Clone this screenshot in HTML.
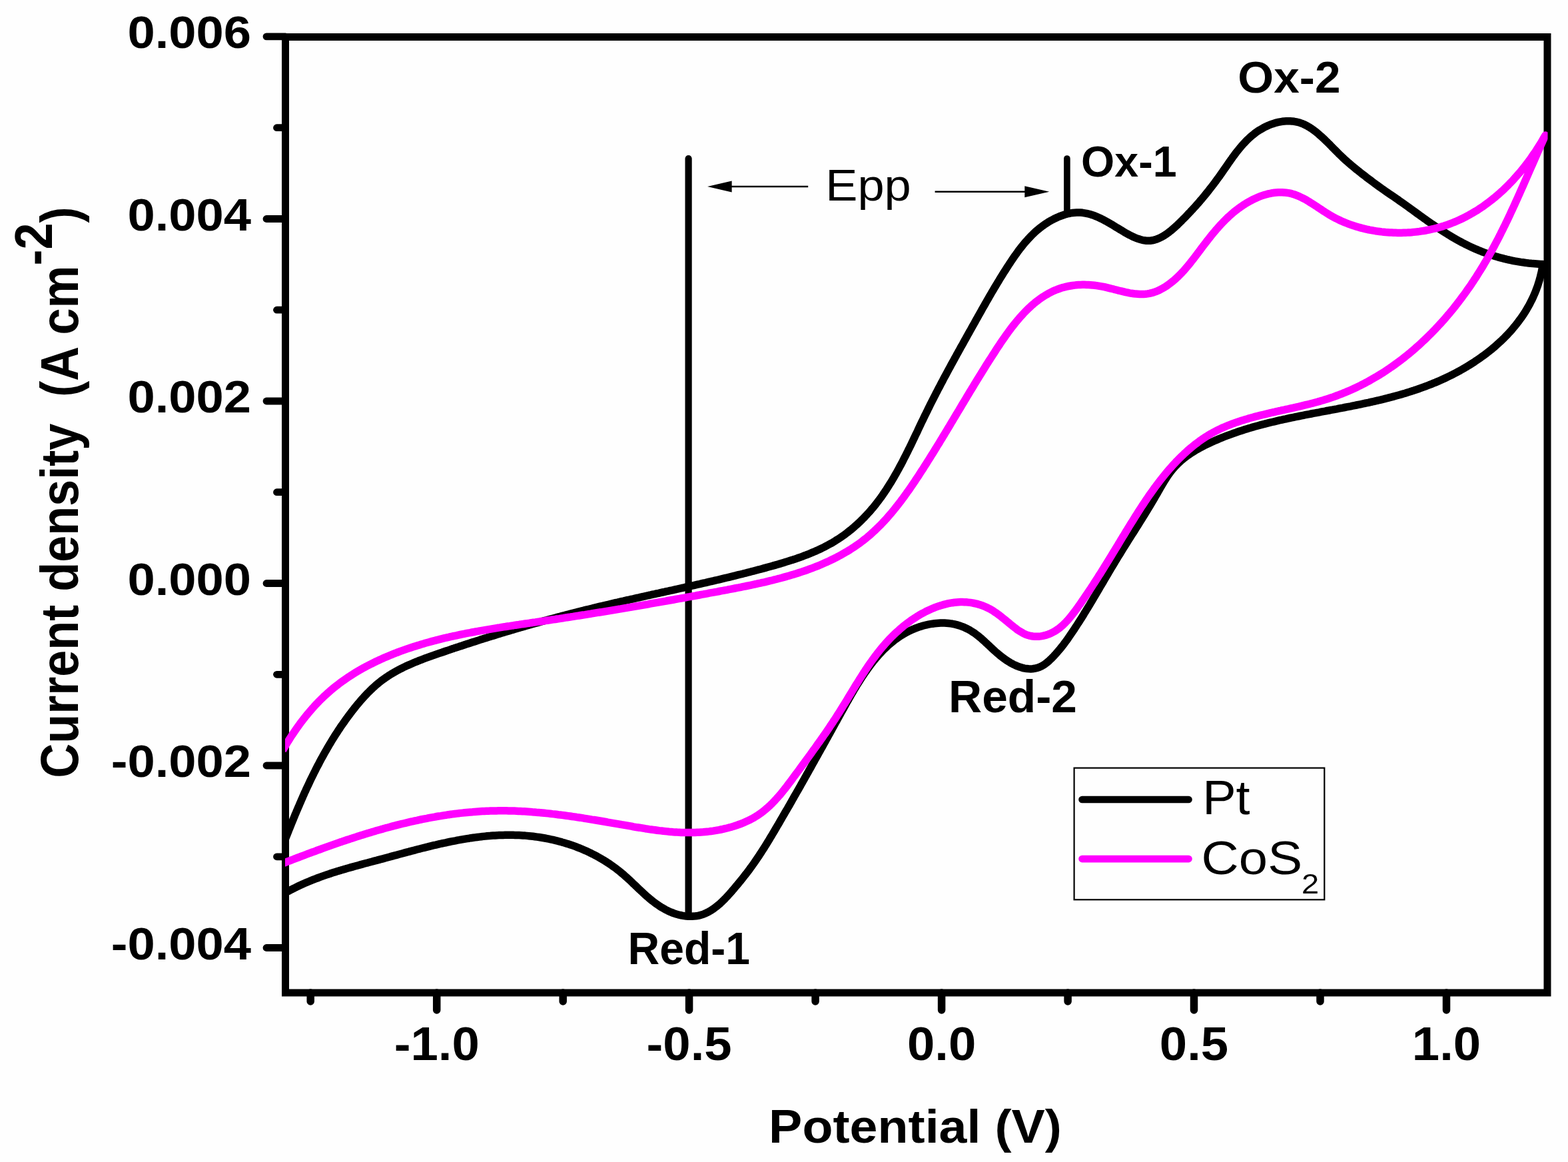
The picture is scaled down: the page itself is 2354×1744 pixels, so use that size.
<!DOCTYPE html>
<html><head><meta charset="utf-8"><title>Cyclic voltammogram Pt vs CoS2</title>
<style>html,body{margin:0;padding:0;background:#fefefe;}svg{display:block;}</style>
</head><body>
<svg xmlns="http://www.w3.org/2000/svg" width="2354" height="1744" viewBox="0 0 2354 1744">
<rect x="0" y="0" width="2354" height="1744" fill="#fefefe"/>
<g stroke="#000" fill="none" stroke-width="11">
<path d="M428.5 55.5H2323V1490H428.5Z" stroke-linejoin="miter" stroke-linecap="square"/>
</g>
<g stroke="#000" stroke-linecap="round" fill="none">
<path d="M428.5 54.9H400" stroke-width="10.8"/>
<path d="M428.5 328.5H400" stroke-width="10.8"/>
<path d="M428.5 602.0H400" stroke-width="10.8"/>
<path d="M428.5 875.5H400" stroke-width="10.8"/>
<path d="M428.5 1149.0H400" stroke-width="10.8"/>
<path d="M428.5 1422.5H400" stroke-width="10.8"/>
<path d="M428.5 191.7H415.5" stroke-width="10.8"/>
<path d="M428.5 465.2H415.5" stroke-width="10.8"/>
<path d="M428.5 738.7H415.5" stroke-width="10.8"/>
<path d="M428.5 1012.3H415.5" stroke-width="10.8"/>
<path d="M428.5 1285.8H415.5" stroke-width="10.8"/>
<path d="M655.7 1490V1516" stroke-width="11.5"/>
<path d="M1034.6 1490V1516" stroke-width="11.5"/>
<path d="M1413.6 1490V1516" stroke-width="11.5"/>
<path d="M1792.5 1490V1516" stroke-width="11.5"/>
<path d="M2171.5 1490V1516" stroke-width="11.5"/>
<path d="M466.2 1490V1503" stroke-width="11.5"/>
<path d="M845.2 1490V1503" stroke-width="11.5"/>
<path d="M1224.1 1490V1503" stroke-width="11.5"/>
<path d="M1603.1 1490V1503" stroke-width="11.5"/>
<path d="M1982.0 1490V1503" stroke-width="11.5"/>
</g>
<g stroke="#000" stroke-linecap="round" fill="none">
<path d="M1033.6 238V1370" stroke-width="10.2"/>
<path d="M1601.9 238V318" stroke-width="9.6"/>
<path d="M1096 280H1213.2" stroke-width="2.6" stroke-linecap="butt"/>
<path d="M1403.6 287.7H1540" stroke-width="2.6" stroke-linecap="butt"/>
</g>
<path d="M1062 280L1098.6 271.4V288.6Z" fill="#000"/>
<path d="M1575.3 287.7L1538.3 279.2V296.3Z" fill="#000"/>
<defs><clipPath id="pc"><rect x="428" y="50" width="1895.5" height="1445"/></clipPath></defs>
<g fill="none" stroke-width="11.5" stroke-linejoin="round" stroke-linecap="butt" clip-path="url(#pc)">
<path stroke="#000" d="M425.6 1266.5L428.5 1259.0 429.6 1256.2 430.7 1253.4 431.8 1250.6 432.9 1247.8 434.0 1245.0 435.2 1242.2 436.3 1239.4 437.4 1236.7 438.5 1233.9 439.7 1231.1 440.8 1228.3 442.0 1225.5 443.1 1222.7 444.3 1220.0 445.4 1217.2 446.6 1214.4 447.8 1211.7 449.0 1208.9 450.2 1206.1 451.4 1203.4 452.6 1200.6 453.8 1197.9 455.0 1195.1 456.2 1192.4 457.4 1189.6 458.7 1186.9 459.9 1184.2 461.2 1181.4 462.5 1178.7 463.8 1176.0 465.0 1173.3 466.3 1170.6 467.6 1167.8 469.0 1165.1 470.3 1162.4 471.6 1159.8 473.0 1157.1 474.3 1154.4 475.7 1151.7 477.1 1149.0 478.5 1146.4 479.9 1143.7 481.3 1141.1 482.7 1138.4 484.2 1135.8 485.6 1133.2 487.1 1130.5 488.6 1127.9 490.1 1125.3 491.6 1122.7 493.1 1120.1 494.6 1117.5 496.2 1114.9 497.7 1112.4 499.3 1109.8 500.9 1107.2 502.5 1104.7 504.1 1102.2 505.8 1099.6 507.4 1097.1 509.1 1094.6 510.7 1092.1 512.4 1089.6 514.1 1087.2 515.9 1084.7 517.6 1082.2 519.3 1079.8 521.1 1077.4 522.9 1074.9 524.7 1072.5 526.5 1070.1 528.3 1067.7 530.2 1065.4 532.0 1063.0 533.9 1060.7 535.8 1058.3 537.7 1056.0 539.7 1053.7 541.6 1051.4 543.6 1049.2 545.6 1046.9 547.6 1044.7 549.7 1042.5 551.8 1040.3 553.9 1038.2 556.0 1036.1 558.2 1034.0 560.4 1031.9 562.6 1029.9 564.9 1027.9 567.2 1026.0 569.5 1024.1 571.9 1022.2 574.3 1020.4 576.7 1018.7 579.2 1016.9 581.7 1015.3 584.2 1013.6 586.7 1012.0 589.3 1010.5 591.9 1009.0 594.5 1007.5 597.2 1006.0 599.8 1004.6 602.5 1003.3 605.2 1001.9 607.9 1000.6 610.6 999.3 613.4 998.1 616.1 996.9 618.9 995.7 621.6 994.5 624.4 993.4 627.2 992.3 630.0 991.1 632.8 990.1 635.6 989.0 638.4 987.9 641.3 986.9 644.1 985.9 646.9 984.9 649.8 983.9 652.6 982.9 655.4 981.9 658.3 980.9 661.1 979.9 664.0 979.0 666.8 978.0 669.7 977.0 672.5 976.1 675.4 975.1 678.2 974.1 681.1 973.2 683.9 972.2 686.8 971.3 689.6 970.3 692.5 969.4 695.3 968.5 698.2 967.5 701.1 966.6 703.9 965.7 706.8 964.7 709.6 963.8 712.5 962.9 715.4 962.0 718.2 961.1 721.1 960.1 724.0 959.2 726.8 958.3 729.7 957.4 732.6 956.5 735.4 955.6 738.3 954.8 741.2 953.9 744.1 953.0 746.9 952.1 749.8 951.2 752.7 950.3 755.6 949.5 758.4 948.6 761.3 947.7 764.2 946.9 767.1 946.0 770.0 945.2 772.9 944.3 775.7 943.5 778.6 942.6 781.5 941.8 784.4 940.9 787.3 940.1 790.2 939.3 793.1 938.5 796.0 937.6 798.9 936.8 801.7 936.0 804.6 935.2 807.5 934.4 810.4 933.6 813.3 932.7 816.2 931.9 819.1 931.2 822.0 930.4 824.9 929.6 827.8 928.8 830.7 928.0 833.6 927.2 836.5 926.4 839.4 925.7 842.4 924.9 845.3 924.1 848.2 923.4 851.1 922.6 854.0 921.9 856.9 921.1 859.8 920.3 862.7 919.6 865.6 918.9 868.6 918.1 871.5 917.4 874.4 916.7 877.3 915.9 880.2 915.2 883.1 914.5 886.1 913.8 889.0 913.1 891.9 912.3 894.8 911.6 897.8 910.9 900.7 910.2 903.6 909.5 906.5 908.8 909.5 908.2 912.4 907.5 915.3 906.8 918.2 906.1 921.2 905.4 924.1 904.7 927.0 904.1 930.0 903.4 932.9 902.7 935.8 902.1 938.8 901.4 941.7 900.7 944.6 900.1 947.6 899.4 950.5 898.8 953.4 898.1 956.4 897.4 959.3 896.8 962.2 896.1 965.2 895.5 968.1 894.8 971.0 894.2 974.0 893.5 976.9 892.9 979.8 892.2 982.8 891.6 985.7 890.9 988.7 890.3 991.6 889.6 994.5 889.0 997.5 888.4 1000.4 887.7 1003.3 887.1 1006.3 886.4 1009.2 885.8 1012.2 885.1 1015.1 884.5 1018.0 883.8 1021.0 883.2 1023.9 882.5 1026.8 881.9 1029.8 881.2 1032.7 880.6 1035.6 879.9 1038.6 879.2 1041.5 878.6 1044.4 877.9 1047.4 877.2 1050.3 876.6 1053.2 875.9 1056.2 875.2 1059.1 874.6 1062.0 873.9 1065.0 873.2 1067.9 872.5 1070.8 871.9 1073.7 871.2 1076.7 870.5 1079.6 869.8 1082.5 869.1 1085.4 868.4 1088.4 867.7 1091.3 867.0 1094.2 866.3 1097.1 865.6 1100.1 864.9 1103.0 864.2 1105.9 863.4 1108.8 862.7 1111.7 862.0 1114.7 861.3 1117.6 860.5 1120.5 859.8 1123.4 859.0 1126.3 858.3 1129.2 857.5 1132.1 856.8 1135.0 856.0 1137.9 855.2 1140.9 854.5 1143.8 853.7 1146.7 852.9 1149.6 852.1 1152.5 851.3 1155.4 850.5 1158.3 849.7 1161.2 848.9 1164.0 848.1 1166.9 847.3 1169.8 846.4 1172.7 845.6 1175.6 844.7 1178.5 843.8 1181.3 842.9 1184.2 842.0 1187.1 841.1 1189.9 840.2 1192.8 839.3 1195.6 838.3 1198.5 837.3 1201.3 836.3 1204.1 835.3 1207.0 834.2 1209.8 833.2 1212.6 832.1 1215.4 831.0 1218.1 829.8 1220.9 828.6 1223.7 827.5 1226.4 826.2 1229.2 825.0 1231.9 823.7 1234.6 822.4 1237.3 821.1 1240.0 819.7 1242.6 818.3 1245.3 816.8 1247.9 815.4 1250.5 813.9 1253.1 812.3 1255.6 810.7 1258.2 809.1 1260.7 807.5 1263.2 805.8 1265.6 804.1 1268.1 802.3 1270.5 800.5 1272.9 798.7 1275.2 796.8 1277.6 794.9 1279.9 793.0 1282.2 791.1 1284.4 789.1 1286.7 787.1 1288.9 785.0 1291.1 783.0 1293.2 780.9 1295.3 778.8 1297.5 776.6 1299.5 774.4 1301.6 772.2 1303.6 770.0 1305.6 767.8 1307.6 765.5 1309.5 763.2 1311.5 760.9 1313.4 758.6 1315.2 756.2 1317.1 753.8 1318.9 751.5 1320.7 749.0 1322.5 746.6 1324.2 744.2 1325.9 741.7 1327.7 739.2 1329.3 736.7 1331.0 734.2 1332.6 731.7 1334.2 729.2 1335.8 726.6 1337.4 724.1 1339.0 721.5 1340.5 718.9 1342.0 716.3 1343.5 713.7 1345.0 711.1 1346.5 708.5 1348.0 705.8 1349.4 703.2 1350.8 700.6 1352.3 697.9 1353.7 695.3 1355.1 692.6 1356.4 689.9 1357.8 687.2 1359.2 684.6 1360.5 681.9 1361.9 679.2 1363.2 676.5 1364.5 673.8 1365.9 671.1 1367.2 668.4 1368.5 665.7 1369.8 663.0 1371.1 660.3 1372.4 657.5 1373.7 654.8 1375.0 652.1 1376.3 649.4 1377.6 646.7 1378.8 644.0 1380.1 641.3 1381.4 638.5 1382.7 635.8 1384.0 633.1 1385.3 630.4 1386.6 627.7 1387.9 625.0 1389.2 622.3 1390.6 619.6 1391.9 616.9 1393.2 614.2 1394.6 611.5 1395.9 608.8 1397.2 606.1 1398.6 603.4 1400.0 600.7 1401.3 598.1 1402.7 595.4 1404.1 592.7 1405.4 590.0 1406.8 587.4 1408.2 584.7 1409.6 582.0 1411.0 579.4 1412.4 576.7 1413.8 574.0 1415.2 571.4 1416.6 568.7 1418.0 566.1 1419.5 563.4 1420.9 560.8 1422.3 558.1 1423.7 555.5 1425.2 552.8 1426.6 550.2 1428.0 547.6 1429.5 544.9 1430.9 542.3 1432.4 539.7 1433.8 537.0 1435.3 534.4 1436.7 531.7 1438.2 529.1 1439.6 526.5 1441.1 523.9 1442.5 521.2 1444.0 518.6 1445.5 516.0 1446.9 513.3 1448.4 510.7 1449.9 508.1 1451.3 505.5 1452.8 502.8 1454.3 500.2 1455.7 497.6 1457.2 495.0 1458.7 492.3 1460.1 489.7 1461.6 487.1 1463.1 484.5 1464.5 481.8 1466.0 479.2 1467.5 476.6 1468.9 474.0 1470.4 471.4 1471.9 468.7 1473.4 466.1 1474.8 463.5 1476.3 460.9 1477.8 458.3 1479.3 455.6 1480.8 453.0 1482.3 450.4 1483.8 447.8 1485.3 445.2 1486.8 442.6 1488.3 440.0 1489.8 437.4 1491.4 434.8 1492.9 432.2 1494.4 429.7 1496.0 427.1 1497.5 424.5 1499.1 421.9 1500.6 419.4 1502.2 416.8 1503.8 414.2 1505.4 411.7 1507.0 409.1 1508.6 406.6 1510.2 404.1 1511.8 401.5 1513.5 399.0 1515.1 396.5 1516.8 394.0 1518.4 391.5 1520.1 389.0 1521.8 386.5 1523.5 384.0 1525.3 381.6 1527.0 379.2 1528.8 376.7 1530.6 374.3 1532.5 371.9 1534.3 369.6 1536.2 367.2 1538.1 364.9 1540.1 362.7 1542.1 360.4 1544.1 358.2 1546.2 356.0 1548.3 353.8 1550.4 351.7 1552.6 349.6 1554.8 347.6 1557.0 345.6 1559.3 343.7 1561.7 341.8 1564.1 339.9 1566.5 338.2 1569.0 336.4 1571.5 334.8 1574.0 333.2 1576.6 331.6 1579.2 330.2 1581.9 328.8 1584.6 327.5 1587.3 326.2 1590.1 325.0 1592.9 324.0 1595.7 323.0 1598.6 322.0 1601.5 321.2 1604.4 320.5 1607.4 319.9 1610.3 319.5 1613.3 319.2 1616.3 319.0 1619.3 318.9 1622.3 319.1 1625.3 319.3 1628.3 319.8 1631.3 320.3 1634.2 321.0 1637.1 321.8 1640.0 322.7 1642.8 323.7 1645.6 324.8 1648.4 326.0 1651.1 327.2 1653.8 328.5 1656.5 329.9 1659.2 331.3 1661.8 332.7 1664.4 334.2 1667.0 335.7 1669.6 337.2 1672.2 338.8 1674.7 340.4 1677.3 341.9 1679.9 343.5 1682.4 345.1 1685.0 346.6 1687.6 348.2 1690.2 349.7 1692.8 351.1 1695.5 352.6 1698.1 353.9 1700.8 355.2 1703.6 356.5 1706.4 357.6 1709.2 358.6 1712.1 359.5 1715.0 360.3 1717.9 360.8 1720.9 361.2 1723.9 361.3 1726.9 361.2 1729.9 360.8 1732.8 360.1 1735.7 359.3 1738.5 358.2 1741.3 357.0 1744.0 355.6 1746.6 354.2 1749.1 352.6 1751.6 350.9 1754.1 349.1 1756.4 347.3 1758.8 345.4 1761.1 343.4 1763.3 341.4 1765.6 339.4 1767.8 337.4 1769.9 335.3 1772.1 333.2 1774.2 331.1 1776.3 328.9 1778.5 326.8 1780.6 324.7 1782.6 322.5 1784.7 320.3 1786.8 318.1 1788.8 315.9 1790.9 313.7 1792.9 311.5 1794.9 309.3 1796.9 307.0 1798.9 304.8 1800.9 302.5 1802.8 300.2 1804.8 297.9 1806.7 295.6 1808.6 293.3 1810.5 291.0 1812.4 288.6 1814.3 286.3 1816.1 283.9 1818.0 281.5 1819.8 279.2 1821.7 276.8 1823.5 274.4 1825.3 272.0 1827.0 269.5 1828.8 267.1 1830.6 264.7 1832.3 262.2 1834.1 259.8 1835.8 257.3 1837.5 254.8 1839.2 252.4 1840.9 249.9 1842.6 247.4 1844.3 244.9 1846.1 242.5 1847.8 240.0 1849.6 237.6 1851.3 235.1 1853.1 232.7 1854.9 230.3 1856.7 227.9 1858.6 225.6 1860.5 223.2 1862.4 220.9 1864.4 218.6 1866.3 216.4 1868.4 214.2 1870.5 212.0 1872.6 209.8 1874.7 207.8 1877.0 205.7 1879.2 203.8 1881.6 201.9 1883.9 200.0 1886.4 198.2 1888.8 196.5 1891.4 194.9 1894.0 193.4 1896.6 191.9 1899.2 190.5 1902.0 189.2 1904.7 188.0 1907.5 186.9 1910.3 185.9 1913.2 185.0 1916.1 184.1 1919.0 183.4 1922.0 182.8 1924.9 182.3 1927.9 182.0 1930.9 181.8 1933.9 181.7 1936.9 181.7 1939.9 181.9 1942.9 182.3 1945.9 182.8 1948.8 183.5 1951.7 184.3 1954.5 185.3 1957.3 186.5 1960.0 187.8 1962.7 189.2 1965.3 190.7 1967.8 192.3 1970.3 194.0 1972.7 195.7 1975.1 197.6 1977.5 199.5 1979.8 201.4 1982.0 203.4 1984.3 205.4 1986.5 207.4 1988.7 209.5 1990.8 211.6 1993.0 213.7 1995.1 215.8 1997.2 217.9 1999.3 220.1 2001.4 222.2 2003.5 224.4 2005.7 226.5 2007.8 228.6 2009.9 230.8 2012.1 232.9 2014.2 234.9 2016.4 237.0 2018.6 239.1 2020.9 241.1 2023.1 243.1 2025.4 245.0 2027.6 247.0 2029.9 248.9 2032.3 250.9 2034.6 252.8 2036.9 254.7 2039.3 256.5 2041.6 258.4 2044.0 260.3 2046.4 262.1 2048.8 263.9 2051.1 265.8 2053.5 267.6 2055.9 269.4 2058.3 271.2 2060.7 273.0 2063.2 274.8 2065.6 276.6 2068.0 278.3 2070.4 280.1 2072.9 281.9 2075.3 283.6 2077.8 285.3 2080.3 287.1 2082.7 288.8 2085.2 290.5 2087.7 292.2 2090.2 293.8 2092.7 295.5 2095.2 297.2 2097.7 298.9 2100.1 300.7 2102.6 302.4 2105.0 304.1 2107.5 305.9 2109.9 307.6 2112.4 309.4 2114.8 311.1 2117.2 312.9 2119.7 314.7 2122.1 316.4 2124.5 318.2 2127.0 320.0 2129.4 321.7 2131.8 323.5 2134.3 325.2 2136.7 327.0 2139.2 328.7 2141.6 330.5 2144.1 332.2 2146.6 333.9 2149.0 335.6 2151.5 337.3 2154.0 339.0 2156.5 340.7 2159.0 342.4 2161.5 344.0 2164.0 345.7 2166.6 347.3 2169.1 348.9 2171.6 350.5 2174.2 352.1 2176.8 353.7 2179.3 355.2 2181.9 356.7 2184.5 358.2 2187.1 359.7 2189.8 361.2 2192.4 362.6 2195.1 364.1 2197.7 365.4 2200.4 366.8 2203.1 368.1 2205.8 369.5 2208.5 370.7 2211.3 372.0 2214.0 373.2 2216.8 374.4 2219.5 375.6 2222.3 376.7 2225.1 377.8 2227.9 378.9 2230.8 379.9 2233.6 380.9 2236.4 381.9 2239.3 382.9 2242.1 383.8 2245.0 384.7 2247.9 385.5 2250.8 386.4 2253.7 387.2 2256.6 387.9 2259.5 388.7 2262.4 389.4 2265.4 390.0 2268.3 390.7 2271.2 391.3 2274.2 391.9 2277.2 392.4 2280.1 392.9 2283.1 393.4 2286.1 393.8 2289.0 394.2 2292.0 394.6 2295.0 395.0 2298.0 395.3 2301.0 395.6 2304.0 395.8 2307.0 396.0 2310.0 396.2 2313.0 396.4 2316.0 396.5 2316.0 398.0 2315.6 401.0 2315.0 403.9 2314.5 406.9 2313.8 409.8 2313.1 412.7 2312.4 415.7 2311.6 418.6 2310.8 421.5 2309.9 424.3 2309.0 427.2 2308.1 430.0 2307.0 432.9 2306.0 435.7 2304.9 438.5 2303.7 441.3 2302.5 444.0 2301.3 446.8 2300.0 449.5 2298.6 452.2 2297.3 454.8 2295.9 457.5 2294.4 460.1 2292.9 462.7 2291.4 465.3 2289.8 467.9 2288.2 470.4 2286.5 472.9 2284.8 475.4 2283.1 477.9 2281.3 480.3 2279.5 482.7 2277.7 485.1 2275.8 487.5 2274.0 489.8 2272.0 492.1 2270.1 494.4 2268.1 496.7 2266.1 498.9 2264.0 501.1 2262.0 503.3 2259.9 505.4 2257.8 507.6 2255.6 509.7 2253.4 511.8 2251.2 513.8 2249.0 515.8 2246.8 517.8 2244.5 519.8 2242.2 521.8 2239.9 523.7 2237.6 525.6 2235.2 527.5 2232.9 529.3 2230.5 531.2 2228.1 533.0 2225.6 534.7 2223.2 536.5 2220.7 538.2 2218.3 539.9 2215.8 541.6 2213.3 543.3 2210.8 544.9 2208.2 546.5 2205.7 548.1 2203.1 549.7 2200.5 551.2 2197.9 552.8 2195.3 554.3 2192.7 555.7 2190.1 557.2 2187.4 558.6 2184.8 560.0 2182.1 561.4 2179.4 562.8 2176.7 564.1 2174.0 565.4 2171.3 566.7 2168.6 568.0 2165.8 569.3 2163.1 570.5 2160.4 571.7 2157.6 572.9 2154.8 574.1 2152.0 575.2 2149.3 576.3 2146.5 577.4 2143.7 578.5 2140.8 579.6 2138.0 580.7 2135.2 581.7 2132.4 582.7 2129.5 583.7 2126.7 584.7 2123.8 585.6 2121.0 586.6 2118.1 587.5 2115.3 588.4 2112.4 589.3 2109.5 590.2 2106.6 591.0 2103.7 591.9 2100.8 592.7 2097.9 593.5 2095.1 594.3 2092.1 595.1 2089.2 595.9 2086.3 596.6 2083.4 597.4 2080.5 598.1 2077.6 598.9 2074.7 599.6 2071.7 600.3 2068.8 601.0 2065.9 601.6 2063.0 602.3 2060.0 603.0 2057.1 603.6 2054.2 604.3 2051.2 604.9 2048.3 605.5 2045.3 606.2 2042.4 606.8 2039.4 607.4 2036.5 608.0 2033.5 608.6 2030.6 609.2 2027.7 609.8 2024.7 610.3 2021.7 610.9 2018.8 611.5 2015.8 612.1 2012.9 612.6 2009.9 613.2 2007.0 613.8 2004.0 614.3 2001.1 614.9 1998.1 615.4 1995.2 616.0 1992.2 616.5 1989.3 617.1 1986.3 617.6 1983.3 618.2 1980.4 618.8 1977.4 619.3 1974.5 619.9 1971.5 620.4 1968.6 621.0 1965.6 621.6 1962.7 622.1 1959.7 622.7 1956.8 623.3 1953.8 623.9 1950.9 624.5 1947.9 625.1 1945.0 625.7 1942.0 626.3 1939.1 626.9 1936.1 627.5 1933.2 628.1 1930.3 628.8 1927.3 629.4 1924.4 630.1 1921.4 630.7 1918.5 631.4 1915.6 632.1 1912.7 632.8 1909.7 633.5 1906.8 634.2 1903.9 634.9 1901.0 635.6 1898.1 636.4 1895.2 637.1 1892.2 637.9 1889.3 638.7 1886.4 639.5 1883.5 640.3 1880.7 641.1 1877.8 642.0 1874.9 642.8 1872.0 643.7 1869.1 644.6 1866.3 645.5 1863.4 646.4 1860.6 647.3 1857.7 648.3 1854.9 649.3 1852.0 650.3 1849.2 651.3 1846.4 652.3 1843.5 653.4 1840.7 654.4 1837.9 655.5 1835.1 656.6 1832.3 657.8 1829.6 658.9 1826.8 660.1 1824.0 661.3 1821.3 662.5 1818.5 663.7 1815.8 665.0 1813.1 666.3 1810.4 667.6 1807.7 668.9 1805.0 670.3 1802.4 671.7 1799.7 673.2 1797.1 674.6 1794.5 676.2 1792.0 677.7 1789.4 679.3 1786.9 681.0 1784.4 682.7 1782.0 684.4 1779.6 686.2 1777.2 688.1 1774.9 690.0 1772.6 692.0 1770.4 694.0 1768.2 696.0 1766.1 698.2 1764.0 700.4 1762.0 702.6 1760.0 704.9 1758.2 707.2 1756.4 709.6 1754.6 712.1 1752.9 714.6 1751.2 717.1 1749.6 719.6 1748.0 722.1 1746.5 724.7 1744.9 727.3 1743.4 729.9 1741.9 732.5 1740.4 735.1 1738.9 737.7 1737.4 740.3 1735.9 742.9 1734.4 745.5 1732.9 748.1 1731.4 750.7 1729.8 753.3 1728.3 755.9 1726.8 758.5 1725.2 761.1 1723.6 763.6 1722.1 766.2 1720.5 768.8 1718.9 771.3 1717.3 773.9 1715.8 776.4 1714.2 779.0 1712.6 781.5 1711.0 784.1 1709.4 786.6 1707.8 789.2 1706.2 791.7 1704.6 794.3 1703.0 796.8 1701.4 799.3 1699.7 801.9 1698.1 804.4 1696.5 807.0 1694.9 809.5 1693.3 812.1 1691.7 814.6 1690.1 817.1 1688.5 819.7 1686.9 822.2 1685.3 824.8 1683.7 827.3 1682.2 829.9 1680.6 832.5 1679.0 835.0 1677.4 837.6 1675.9 840.2 1674.3 842.7 1672.8 845.3 1671.2 847.9 1669.7 850.5 1668.1 853.0 1666.6 855.6 1665.0 858.2 1663.5 860.8 1662.0 863.4 1660.5 866.0 1658.9 868.6 1657.4 871.2 1655.9 873.8 1654.4 876.3 1652.8 878.9 1651.3 881.5 1649.8 884.1 1648.3 886.7 1646.7 889.3 1645.2 891.9 1643.7 894.5 1642.1 897.1 1640.6 899.7 1639.1 902.2 1637.5 904.8 1636.0 907.4 1634.4 910.0 1632.9 912.5 1631.3 915.1 1629.7 917.7 1628.1 920.2 1626.6 922.8 1625.0 925.3 1623.4 927.9 1621.8 930.4 1620.2 933.0 1618.5 935.5 1616.9 938.0 1615.3 940.6 1613.6 943.1 1612.0 945.6 1610.3 948.1 1608.6 950.6 1606.9 953.1 1605.2 955.5 1603.5 958.0 1601.8 960.5 1600.0 962.9 1598.2 965.3 1596.4 967.7 1594.5 970.1 1592.7 972.4 1590.8 974.8 1588.8 977.1 1586.9 979.3 1584.9 981.6 1582.8 983.8 1580.8 986.0 1578.7 988.1 1576.5 990.2 1574.3 992.3 1572.0 994.2 1569.6 996.1 1567.2 997.8 1564.6 999.3 1561.9 1000.7 1559.1 1001.8 1556.2 1002.7 1553.3 1003.3 1550.3 1003.7 1547.3 1003.9 1544.3 1003.8 1541.3 1003.6 1538.4 1003.1 1535.4 1002.5 1532.5 1001.6 1529.7 1000.7 1526.9 999.6 1524.1 998.4 1521.4 997.1 1518.7 995.7 1516.1 994.2 1513.6 992.6 1511.0 991.0 1508.6 989.3 1506.1 987.5 1503.7 985.7 1501.4 983.9 1499.1 981.9 1496.8 980.0 1494.5 978.0 1492.3 976.0 1490.1 974.0 1487.9 971.9 1485.7 969.8 1483.5 967.8 1481.3 965.7 1479.1 963.7 1476.9 961.6 1474.6 959.6 1472.4 957.6 1470.1 955.7 1467.7 953.8 1465.3 952.0 1462.9 950.2 1460.4 948.6 1457.9 947.0 1455.3 945.4 1452.6 944.0 1449.9 942.7 1447.2 941.4 1444.4 940.3 1441.6 939.3 1438.7 938.4 1435.8 937.6 1432.9 936.9 1429.9 936.3 1427.0 935.9 1424.0 935.5 1421.0 935.3 1418.0 935.1 1415.0 935.1 1412.0 935.1 1409.0 935.3 1406.0 935.5 1403.0 935.8 1400.0 936.2 1397.0 936.7 1394.1 937.2 1391.1 937.8 1388.2 938.5 1385.3 939.3 1382.4 940.2 1379.5 941.1 1376.7 942.1 1373.9 943.2 1371.1 944.3 1368.4 945.5 1365.6 946.8 1362.9 948.1 1360.3 949.5 1357.7 951.0 1355.1 952.5 1352.5 954.1 1350.0 955.8 1347.5 957.5 1345.1 959.2 1342.7 961.0 1340.3 962.9 1338.0 964.8 1335.7 966.7 1333.4 968.7 1331.2 970.8 1329.1 972.8 1326.9 974.9 1324.8 977.1 1322.7 979.3 1320.7 981.5 1318.7 983.7 1316.7 986.0 1314.7 988.3 1312.8 990.6 1310.9 992.9 1309.1 995.3 1307.2 997.7 1305.4 1000.1 1303.7 1002.5 1301.9 1004.9 1300.2 1007.4 1298.4 1009.9 1296.8 1012.3 1295.1 1014.8 1293.4 1017.4 1291.8 1019.9 1290.2 1022.4 1288.6 1025.0 1287.0 1027.5 1285.4 1030.1 1283.9 1032.7 1282.3 1035.2 1280.8 1037.8 1279.3 1040.4 1277.8 1043.0 1276.3 1045.6 1274.8 1048.2 1273.3 1050.9 1271.8 1053.5 1270.3 1056.1 1268.9 1058.7 1267.4 1061.4 1266.0 1064.0 1264.5 1066.6 1263.0 1069.2 1261.6 1071.9 1260.1 1074.5 1258.7 1077.1 1257.2 1079.8 1255.8 1082.4 1254.3 1085.0 1252.8 1087.7 1251.4 1090.3 1249.9 1092.9 1248.5 1095.6 1247.0 1098.2 1245.6 1100.8 1244.1 1103.4 1242.6 1106.1 1241.2 1108.7 1239.7 1111.3 1238.3 1114.0 1236.8 1116.6 1235.4 1119.2 1233.9 1121.9 1232.4 1124.5 1231.0 1127.1 1229.5 1129.7 1228.0 1132.4 1226.6 1135.0 1225.1 1137.6 1223.6 1140.2 1222.2 1142.9 1220.7 1145.5 1219.2 1148.1 1217.8 1150.7 1216.3 1153.4 1214.8 1156.0 1213.4 1158.6 1211.9 1161.2 1210.4 1163.9 1208.9 1166.5 1207.5 1169.1 1206.0 1171.7 1204.5 1174.3 1203.0 1176.9 1201.6 1179.6 1200.1 1182.2 1198.6 1184.8 1197.1 1187.4 1195.6 1190.0 1194.1 1192.6 1192.6 1195.2 1191.1 1197.9 1189.6 1200.5 1188.2 1203.1 1186.7 1205.7 1185.2 1208.3 1183.7 1210.9 1182.2 1213.5 1180.7 1216.1 1179.1 1218.7 1177.6 1221.3 1176.1 1223.9 1174.6 1226.5 1173.1 1229.1 1171.6 1231.7 1170.1 1234.3 1168.6 1236.9 1167.0 1239.5 1165.5 1242.1 1164.0 1244.7 1162.5 1247.3 1160.9 1249.9 1159.4 1252.5 1157.9 1255.0 1156.3 1257.6 1154.8 1260.2 1153.2 1262.8 1151.6 1265.3 1150.0 1267.9 1148.5 1270.4 1146.9 1273.0 1145.2 1275.5 1143.6 1278.1 1142.0 1280.6 1140.3 1283.1 1138.7 1285.6 1137.0 1288.1 1135.3 1290.6 1133.6 1293.1 1131.9 1295.5 1130.1 1298.0 1128.4 1300.4 1126.6 1302.8 1124.8 1305.3 1123.0 1307.7 1121.2 1310.1 1119.4 1312.4 1117.5 1314.8 1115.6 1317.2 1113.8 1319.5 1111.9 1321.9 1110.0 1324.2 1108.1 1326.5 1106.2 1328.8 1104.2 1331.1 1102.3 1333.4 1100.3 1335.7 1098.4 1338.0 1096.4 1340.3 1094.4 1342.5 1092.4 1344.7 1090.3 1346.9 1088.2 1349.1 1086.1 1351.2 1083.9 1353.3 1081.7 1355.4 1079.5 1357.4 1077.2 1359.3 1074.8 1361.2 1072.4 1363.0 1070.0 1364.7 1067.5 1366.3 1064.9 1367.9 1062.2 1369.3 1059.5 1370.6 1056.7 1371.8 1053.9 1372.8 1051.0 1373.6 1048.1 1374.3 1045.1 1374.8 1042.1 1375.1 1039.1 1375.3 1036.1 1375.3 1033.1 1375.2 1030.1 1375.0 1027.1 1374.6 1024.2 1374.1 1021.2 1373.5 1018.3 1372.8 1015.4 1372.0 1012.6 1371.1 1009.7 1370.0 1006.9 1368.9 1004.2 1367.7 1001.5 1366.4 998.8 1365.1 996.2 1363.6 993.6 1362.1 991.0 1360.5 988.5 1358.8 986.0 1357.1 983.6 1355.3 981.2 1353.5 978.8 1351.7 976.5 1349.8 974.2 1347.8 971.9 1345.9 969.7 1343.9 967.4 1341.9 965.2 1339.8 963.0 1337.8 960.8 1335.7 958.6 1333.7 956.5 1331.6 954.3 1329.5 952.1 1327.4 949.9 1325.4 947.8 1323.3 945.6 1321.2 943.4 1319.2 941.1 1317.2 938.9 1315.2 936.6 1313.2 934.3 1311.2 932.0 1309.3 929.7 1307.4 927.3 1305.5 925.0 1303.7 922.5 1301.9 920.1 1300.2 917.6 1298.4 915.2 1296.7 912.7 1295.1 910.1 1293.4 907.6 1291.8 905.0 1290.3 902.4 1288.7 899.8 1287.2 897.2 1285.8 894.6 1284.3 891.9 1282.9 889.2 1281.6 886.5 1280.2 883.8 1278.9 881.1 1277.6 878.4 1276.4 875.6 1275.2 872.8 1274.0 870.0 1272.9 867.2 1271.8 864.4 1270.7 861.6 1269.7 858.8 1268.7 855.9 1267.7 853.1 1266.8 850.2 1265.9 847.3 1265.0 844.4 1264.2 841.5 1263.3 838.6 1262.6 835.7 1261.8 832.8 1261.1 829.9 1260.4 826.9 1259.8 824.0 1259.2 821.1 1258.6 818.1 1258.0 815.1 1257.5 812.2 1257.0 809.2 1256.5 806.2 1256.1 803.2 1255.7 800.3 1255.3 797.3 1255.0 794.3 1254.7 791.3 1254.4 788.3 1254.1 785.3 1253.9 782.3 1253.7 779.3 1253.6 776.3 1253.5 773.3 1253.4 770.3 1253.3 767.3 1253.2 764.3 1253.2 761.2 1253.2 758.2 1253.3 755.2 1253.4 752.2 1253.5 749.2 1253.6 746.2 1253.7 743.2 1253.9 740.2 1254.1 737.2 1254.3 734.2 1254.6 731.2 1254.8 728.2 1255.1 725.2 1255.4 722.3 1255.8 719.3 1256.1 716.3 1256.5 713.3 1256.9 710.3 1257.3 707.3 1257.7 704.4 1258.2 701.4 1258.6 698.4 1259.1 695.5 1259.6 692.5 1260.1 689.5 1260.7 686.6 1261.2 683.6 1261.8 680.7 1262.3 677.7 1262.9 674.8 1263.5 671.8 1264.1 668.9 1264.8 666.0 1265.4 663.0 1266.0 660.1 1266.7 657.2 1267.4 654.2 1268.1 651.3 1268.7 648.4 1269.4 645.5 1270.1 642.5 1270.9 639.6 1271.6 636.7 1272.3 633.8 1273.0 630.9 1273.8 628.0 1274.5 625.0 1275.3 622.1 1276.1 619.2 1276.8 616.3 1277.6 613.4 1278.4 610.5 1279.1 607.6 1279.9 604.7 1280.7 601.8 1281.5 598.9 1282.3 596.0 1283.1 593.1 1283.8 590.2 1284.6 587.3 1285.4 584.4 1286.2 581.5 1287.0 578.6 1287.8 575.7 1288.6 572.8 1289.3 569.9 1290.1 567.0 1290.9 564.1 1291.7 561.2 1292.4 558.2 1293.2 555.3 1294.0 552.4 1294.8 549.5 1295.5 546.6 1296.3 543.7 1297.1 540.8 1297.9 537.9 1298.7 535.0 1299.5 532.1 1300.3 529.2 1301.1 526.3 1301.9 523.4 1302.7 520.5 1303.5 517.6 1304.4 514.8 1305.2 511.9 1306.1 509.0 1306.9 506.1 1307.8 503.3 1308.7 500.4 1309.6 497.5 1310.5 494.7 1311.5 491.8 1312.4 489.0 1313.4 486.1 1314.4 483.3 1315.4 480.5 1316.4 477.6 1317.5 474.8 1318.5 472.0 1319.6 469.2 1320.7 466.4 1321.8 463.7 1323.0 460.9 1324.1 458.1 1325.3 455.4 1326.5 452.6 1327.8 449.9 1329.0 447.2 1330.3 444.5 1331.6 441.8 1333.0 439.1 1334.3 436.4 1335.7 433.8 1337.1 431.1 1338.5 428.5 1340.0 421.5 1343.9"/>
<path stroke="#f0f" d="M424.4 1126.2L428.5 1119.3 430.0 1116.7 431.6 1114.1 433.2 1111.6 434.8 1109.0 436.4 1106.5 438.0 1104.0 439.7 1101.5 441.4 1099.0 443.1 1096.5 444.8 1094.0 446.5 1091.6 448.3 1089.1 450.0 1086.7 451.8 1084.3 453.7 1081.9 455.5 1079.5 457.4 1077.1 459.2 1074.8 461.1 1072.5 463.1 1070.1 465.0 1067.8 467.0 1065.6 468.9 1063.3 471.0 1061.1 473.0 1058.8 475.0 1056.6 477.1 1054.5 479.2 1052.3 481.3 1050.2 483.5 1048.1 485.6 1046.0 487.8 1043.9 490.0 1041.9 492.3 1039.9 494.5 1037.9 496.8 1035.9 499.1 1034.0 501.5 1032.1 503.8 1030.2 506.2 1028.4 508.6 1026.5 511.0 1024.7 513.4 1022.9 515.8 1021.2 518.3 1019.5 520.8 1017.8 523.3 1016.1 525.8 1014.4 528.3 1012.8 530.9 1011.2 533.4 1009.6 536.0 1008.1 538.6 1006.6 541.2 1005.1 543.8 1003.6 546.4 1002.1 549.1 1000.7 551.7 999.3 554.4 997.9 557.1 996.5 559.8 995.2 562.5 993.8 565.2 992.5 567.9 991.3 570.6 990.0 573.4 988.8 576.1 987.5 578.9 986.3 581.7 985.2 584.4 984.0 587.2 982.9 590.0 981.7 592.8 980.6 595.6 979.5 598.4 978.5 601.2 977.4 604.1 976.4 606.9 975.4 609.7 974.4 612.6 973.4 615.4 972.5 618.3 971.5 621.2 970.6 624.0 969.7 626.9 968.8 629.8 967.9 632.6 967.0 635.5 966.2 638.4 965.3 641.3 964.5 644.2 963.7 647.1 962.9 650.0 962.1 652.9 961.4 655.8 960.6 658.7 959.9 661.7 959.1 664.6 958.4 667.5 957.7 670.4 957.0 673.4 956.4 676.3 955.7 679.2 955.0 682.2 954.4 685.1 953.8 688.1 953.1 691.0 952.5 693.9 951.9 696.9 951.3 699.8 950.7 702.8 950.1 705.8 949.6 708.7 949.0 711.7 948.5 714.6 947.9 717.6 947.4 720.5 946.8 723.5 946.3 726.5 945.8 729.4 945.3 732.4 944.8 735.4 944.3 738.3 943.8 741.3 943.3 744.3 942.8 747.2 942.3 750.2 941.9 753.2 941.4 756.1 940.9 759.1 940.5 762.1 940.0 765.1 939.6 768.0 939.1 771.0 938.7 774.0 938.2 777.0 937.8 779.9 937.3 782.9 936.9 785.9 936.5 788.9 936.0 791.8 935.6 794.8 935.2 797.8 934.7 800.8 934.3 803.7 933.9 806.7 933.4 809.7 933.0 812.7 932.5 815.6 932.1 818.6 931.7 821.6 931.2 824.6 930.8 827.5 930.3 830.5 929.9 833.5 929.5 836.5 929.0 839.4 928.6 842.4 928.1 845.4 927.7 848.4 927.2 851.3 926.7 854.3 926.3 857.3 925.8 860.3 925.4 863.2 924.9 866.2 924.4 869.2 924.0 872.1 923.5 875.1 923.0 878.1 922.6 881.1 922.1 884.0 921.6 887.0 921.2 890.0 920.7 892.9 920.2 895.9 919.7 898.9 919.2 901.8 918.8 904.8 918.3 907.8 917.8 910.7 917.3 913.7 916.8 916.7 916.3 919.7 915.8 922.6 915.3 925.6 914.8 928.6 914.3 931.5 913.9 934.5 913.4 937.4 912.9 940.4 912.4 943.4 911.9 946.3 911.4 949.3 910.8 952.3 910.3 955.2 909.8 958.2 909.3 961.2 908.8 964.1 908.3 967.1 907.8 970.1 907.3 973.0 906.8 976.0 906.2 978.9 905.7 981.9 905.2 984.9 904.7 987.8 904.2 990.8 903.6 993.8 903.1 996.7 902.6 999.7 902.1 1002.6 901.5 1005.6 901.0 1008.6 900.5 1011.5 900.0 1014.5 899.4 1017.4 898.9 1020.4 898.4 1023.4 897.8 1026.3 897.3 1029.3 896.8 1032.2 896.2 1035.2 895.7 1038.2 895.1 1041.1 894.6 1044.1 894.1 1047.0 893.5 1050.0 893.0 1053.0 892.4 1055.9 891.9 1058.9 891.3 1061.8 890.8 1064.8 890.2 1067.7 889.7 1070.7 889.2 1073.7 888.6 1076.6 888.1 1079.6 887.5 1082.5 886.9 1085.5 886.4 1088.4 885.8 1091.4 885.3 1094.4 884.7 1097.3 884.2 1100.3 883.6 1103.2 883.0 1106.2 882.4 1109.1 881.9 1112.1 881.3 1115.0 880.7 1118.0 880.1 1120.9 879.5 1123.9 878.9 1126.8 878.3 1129.7 877.7 1132.7 877.0 1135.6 876.4 1138.6 875.7 1141.5 875.1 1144.4 874.4 1147.4 873.8 1150.3 873.1 1153.2 872.4 1156.1 871.7 1159.1 871.0 1162.0 870.2 1164.9 869.5 1167.8 868.7 1170.7 868.0 1173.6 867.2 1176.5 866.4 1179.4 865.6 1182.3 864.8 1185.2 864.0 1188.1 863.1 1191.0 862.2 1193.9 861.4 1196.7 860.5 1199.6 859.5 1202.4 858.6 1205.3 857.6 1208.1 856.7 1211.0 855.7 1213.8 854.7 1216.6 853.6 1219.5 852.6 1222.3 851.5 1225.1 850.4 1227.9 849.3 1230.6 848.2 1233.4 847.0 1236.2 845.8 1238.9 844.6 1241.7 843.4 1244.4 842.1 1247.1 840.8 1249.8 839.5 1252.5 838.2 1255.2 836.8 1257.9 835.4 1260.5 834.0 1263.2 832.6 1265.8 831.1 1268.4 829.6 1271.0 828.1 1273.6 826.5 1276.1 825.0 1278.7 823.3 1281.2 821.7 1283.7 820.0 1286.2 818.3 1288.6 816.6 1291.1 814.8 1293.5 813.0 1295.9 811.2 1298.2 809.3 1300.6 807.5 1302.9 805.5 1305.2 803.6 1307.5 801.6 1309.7 799.6 1311.9 797.6 1314.1 795.5 1316.3 793.4 1318.4 791.3 1320.6 789.2 1322.7 787.1 1324.8 784.9 1326.8 782.7 1328.9 780.5 1330.9 778.3 1332.9 776.0 1334.8 773.8 1336.8 771.5 1338.8 769.2 1340.7 766.9 1342.6 764.5 1344.5 762.2 1346.3 759.8 1348.2 757.5 1350.0 755.1 1351.9 752.7 1353.7 750.3 1355.5 747.9 1357.3 745.5 1359.0 743.0 1360.8 740.6 1362.5 738.1 1364.3 735.7 1366.0 733.2 1367.7 730.8 1369.4 728.3 1371.1 725.8 1372.8 723.3 1374.4 720.8 1376.1 718.3 1377.8 715.8 1379.4 713.3 1381.1 710.7 1382.7 708.2 1384.3 705.7 1386.0 703.2 1387.6 700.6 1389.2 698.1 1390.8 695.6 1392.4 693.0 1394.0 690.5 1395.6 687.9 1397.2 685.4 1398.8 682.8 1400.4 680.3 1402.0 677.7 1403.6 675.2 1405.2 672.6 1406.7 670.0 1408.3 667.5 1409.9 664.9 1411.4 662.4 1413.0 659.8 1414.6 657.2 1416.1 654.6 1417.7 652.1 1419.2 649.5 1420.8 646.9 1422.4 644.3 1423.9 641.8 1425.5 639.2 1427.0 636.6 1428.5 634.0 1430.1 631.4 1431.6 628.9 1433.2 626.3 1434.7 623.7 1436.3 621.1 1437.8 618.5 1439.4 616.0 1440.9 613.4 1442.5 610.8 1444.0 608.2 1445.5 605.6 1447.1 603.1 1448.6 600.5 1450.2 597.9 1451.7 595.3 1453.3 592.7 1454.8 590.2 1456.4 587.6 1458.0 585.0 1459.5 582.5 1461.1 579.9 1462.6 577.3 1464.2 574.7 1465.8 572.2 1467.3 569.6 1468.9 567.1 1470.5 564.5 1472.1 561.9 1473.7 559.4 1475.2 556.8 1476.8 554.3 1478.4 551.7 1480.0 549.2 1481.6 546.6 1483.2 544.1 1484.8 541.5 1486.5 539.0 1488.1 536.5 1489.7 533.9 1491.3 531.4 1493.0 528.9 1494.6 526.4 1496.2 523.8 1497.9 521.3 1499.6 518.8 1501.2 516.3 1502.9 513.8 1504.6 511.3 1506.3 508.9 1508.0 506.4 1509.7 503.9 1511.5 501.5 1513.3 499.0 1515.0 496.6 1516.8 494.2 1518.6 491.8 1520.5 489.4 1522.3 487.1 1524.2 484.7 1526.1 482.4 1528.1 480.1 1530.0 477.8 1532.0 475.5 1534.0 473.3 1536.0 471.1 1538.1 468.9 1540.2 466.7 1542.3 464.6 1544.5 462.5 1546.7 460.5 1548.9 458.4 1551.2 456.5 1553.5 454.5 1555.8 452.6 1558.2 450.8 1560.6 449.0 1563.1 447.3 1565.6 445.6 1568.1 444.0 1570.7 442.4 1573.3 440.9 1575.9 439.5 1578.6 438.1 1581.3 436.8 1584.1 435.6 1586.9 434.5 1589.7 433.5 1592.5 432.5 1595.4 431.6 1598.3 430.9 1601.3 430.1 1604.2 429.5 1607.2 429.0 1610.1 428.5 1613.1 428.1 1616.1 427.8 1619.1 427.6 1622.1 427.4 1625.1 427.3 1628.1 427.3 1631.1 427.4 1634.1 427.5 1637.1 427.7 1640.1 427.9 1643.1 428.2 1646.1 428.6 1649.1 429.1 1652.0 429.6 1655.0 430.1 1657.9 430.7 1660.9 431.4 1663.8 432.1 1666.7 432.8 1669.6 433.5 1672.6 434.3 1675.5 435.0 1678.4 435.8 1681.3 436.5 1684.2 437.2 1687.1 437.9 1690.1 438.6 1693.0 439.2 1696.0 439.8 1698.9 440.3 1701.9 440.7 1704.9 441.1 1707.9 441.3 1710.9 441.5 1713.9 441.6 1716.9 441.5 1719.9 441.3 1722.9 440.9 1725.9 440.4 1728.8 439.7 1731.7 438.9 1734.5 437.9 1737.3 436.8 1740.1 435.6 1742.8 434.2 1745.4 432.8 1748.0 431.3 1750.6 429.7 1753.0 428.0 1755.5 426.2 1757.9 424.4 1760.2 422.5 1762.5 420.6 1764.8 418.6 1767.0 416.6 1769.2 414.5 1771.3 412.4 1773.4 410.2 1775.5 408.0 1777.5 405.8 1779.5 403.5 1781.4 401.3 1783.4 399.0 1785.3 396.6 1787.2 394.3 1789.0 391.9 1790.9 389.6 1792.7 387.2 1794.6 384.8 1796.4 382.4 1798.2 380.0 1800.0 377.6 1801.8 375.2 1803.6 372.8 1805.4 370.4 1807.2 368.0 1809.1 365.6 1810.9 363.2 1812.7 360.9 1814.6 358.5 1816.5 356.1 1818.3 353.8 1820.2 351.4 1822.2 349.1 1824.1 346.8 1826.0 344.5 1828.0 342.3 1830.0 340.0 1832.0 337.8 1834.1 335.6 1836.2 333.4 1838.3 331.3 1840.4 329.1 1842.6 327.0 1844.7 325.0 1847.0 323.0 1849.2 321.0 1851.5 319.0 1853.9 317.1 1856.2 315.3 1858.6 313.4 1861.0 311.7 1863.5 309.9 1866.0 308.2 1868.5 306.6 1871.0 305.0 1873.6 303.5 1876.3 302.0 1878.9 300.6 1881.6 299.2 1884.3 297.9 1887.0 296.7 1889.8 295.5 1892.6 294.4 1895.5 293.4 1898.3 292.5 1901.2 291.7 1904.1 290.9 1907.1 290.3 1910.0 289.7 1913.0 289.3 1916.0 289.0 1919.0 288.8 1922.0 288.7 1925.0 288.7 1928.0 288.9 1931.0 289.2 1934.0 289.6 1936.9 290.2 1939.8 290.9 1942.7 291.8 1945.6 292.8 1948.4 293.9 1951.1 295.1 1953.8 296.4 1956.5 297.7 1959.2 299.1 1961.8 300.6 1964.4 302.2 1966.9 303.7 1969.5 305.3 1972.0 306.9 1974.5 308.6 1977.1 310.2 1979.6 311.9 1982.1 313.6 1984.6 315.2 1987.1 316.9 1989.6 318.5 1992.2 320.1 1994.7 321.7 1997.3 323.2 1999.9 324.7 2002.6 326.2 2005.2 327.6 2007.9 328.9 2010.6 330.2 2013.3 331.5 2016.1 332.7 2018.9 333.9 2021.7 335.0 2024.5 336.1 2027.3 337.1 2030.1 338.1 2033.0 339.0 2035.9 339.9 2038.7 340.8 2041.6 341.6 2044.5 342.4 2047.5 343.1 2050.4 343.8 2053.3 344.5 2056.3 345.1 2059.2 345.6 2062.2 346.2 2065.2 346.7 2068.1 347.1 2071.1 347.5 2074.1 347.9 2077.1 348.2 2080.1 348.5 2083.1 348.7 2086.1 348.9 2089.1 349.1 2092.1 349.3 2095.1 349.3 2098.1 349.4 2101.1 349.4 2104.1 349.4 2107.1 349.3 2110.1 349.2 2113.1 349.1 2116.1 348.9 2119.1 348.7 2122.1 348.4 2125.1 348.1 2128.1 347.8 2131.1 347.4 2134.1 346.9 2137.0 346.5 2140.0 346.0 2143.0 345.4 2145.9 344.8 2148.8 344.2 2151.8 343.5 2154.7 342.8 2157.6 342.1 2160.5 341.3 2163.4 340.4 2166.3 339.6 2169.1 338.6 2172.0 337.7 2174.8 336.7 2177.6 335.6 2180.4 334.5 2183.2 333.4 2186.0 332.2 2188.8 331.0 2191.5 329.8 2194.2 328.5 2196.9 327.2 2199.6 325.8 2202.3 324.4 2204.9 323.0 2207.5 321.5 2210.2 320.0 2212.7 318.5 2215.3 316.9 2217.9 315.4 2220.4 313.7 2222.9 312.1 2225.4 310.4 2227.9 308.7 2230.3 306.9 2232.7 305.1 2235.2 303.3 2237.5 301.5 2239.9 299.7 2242.2 297.8 2244.6 295.9 2246.9 293.9 2249.2 292.0 2251.4 290.0 2253.6 288.0 2255.9 285.9 2258.1 283.9 2260.2 281.8 2262.4 279.7 2264.5 277.6 2266.6 275.4 2268.7 273.3 2270.8 271.1 2272.8 268.9 2274.8 266.6 2276.8 264.4 2278.8 262.1 2280.8 259.9 2282.7 257.6 2284.6 255.2 2286.5 252.9 2288.4 250.5 2290.3 248.2 2292.1 245.8 2293.9 243.4 2295.7 241.0 2297.5 238.5 2299.2 236.1 2300.9 233.6 2302.6 231.1 2304.3 228.7 2306.0 226.2 2307.6 223.6 2309.2 221.1 2310.8 218.5 2312.4 216.0 2314.0 213.4 2315.5 210.8 2317.0 208.2 2318.5 205.6 2320.0 203.0 2320.0 203.0 2318.8 205.7 2317.5 208.5 2316.3 211.2 2315.1 214.0 2313.8 216.7 2312.6 219.5 2311.4 222.2 2310.2 224.9 2308.9 227.7 2307.7 230.4 2306.5 233.2 2305.3 235.9 2304.1 238.7 2302.9 241.5 2301.7 244.2 2300.5 247.0 2299.2 249.7 2298.0 252.5 2296.8 255.2 2295.6 258.0 2294.4 260.7 2293.2 263.5 2292.0 266.2 2290.8 269.0 2289.6 271.7 2288.4 274.5 2287.2 277.2 2286.0 280.0 2284.7 282.7 2283.5 285.5 2282.3 288.2 2281.1 291.0 2279.8 293.7 2278.6 296.5 2277.4 299.2 2276.1 302.0 2274.9 304.7 2273.7 307.4 2272.4 310.2 2271.1 312.9 2269.9 315.6 2268.6 318.3 2267.3 321.1 2266.1 323.8 2264.8 326.5 2263.5 329.2 2262.2 331.9 2260.9 334.6 2259.6 337.4 2258.2 340.1 2256.9 342.8 2255.6 345.4 2254.2 348.1 2252.9 350.8 2251.5 353.5 2250.2 356.2 2248.8 358.9 2247.4 361.5 2246.0 364.2 2244.6 366.8 2243.2 369.5 2241.8 372.1 2240.3 374.8 2238.9 377.4 2237.4 380.1 2236.0 382.7 2234.5 385.3 2233.0 387.9 2231.5 390.5 2230.0 393.1 2228.4 395.7 2226.9 398.3 2225.4 400.9 2223.8 403.4 2222.2 406.0 2220.6 408.5 2219.0 411.1 2217.4 413.6 2215.8 416.2 2214.1 418.7 2212.5 421.2 2210.8 423.7 2209.2 426.2 2207.5 428.7 2205.8 431.1 2204.0 433.6 2202.3 436.1 2200.6 438.5 2198.8 441.0 2197.0 443.4 2195.2 445.8 2193.4 448.2 2191.6 450.6 2189.8 453.0 2188.0 455.4 2186.1 457.8 2184.3 460.1 2182.4 462.5 2180.5 464.8 2178.6 467.1 2176.7 469.4 2174.7 471.7 2172.8 474.0 2170.8 476.3 2168.9 478.6 2166.9 480.8 2164.9 483.1 2162.9 485.3 2160.8 487.5 2158.8 489.7 2156.7 491.9 2154.7 494.1 2152.6 496.3 2150.5 498.4 2148.4 500.6 2146.2 502.7 2144.1 504.8 2142.0 506.9 2139.8 509.0 2137.6 511.1 2135.4 513.1 2133.2 515.2 2131.0 517.2 2128.8 519.2 2126.5 521.2 2124.3 523.2 2122.0 525.2 2119.7 527.1 2117.4 529.1 2115.1 531.0 2112.8 532.9 2110.4 534.8 2108.1 536.6 2105.7 538.5 2103.3 540.3 2100.9 542.1 2098.5 543.9 2096.1 545.7 2093.6 547.5 2091.2 549.2 2088.7 550.9 2086.2 552.7 2083.8 554.3 2081.3 556.0 2078.7 557.7 2076.2 559.3 2073.7 560.9 2071.1 562.5 2068.6 564.0 2066.0 565.6 2063.4 567.1 2060.8 568.6 2058.2 570.1 2055.5 571.6 2052.9 573.0 2050.3 574.4 2047.6 575.8 2044.9 577.2 2042.2 578.6 2039.5 579.9 2036.8 581.2 2034.1 582.5 2031.4 583.8 2028.7 585.0 2025.9 586.2 2023.1 587.4 2020.4 588.6 2017.6 589.7 2014.8 590.8 2012.0 591.9 2009.2 593.0 2006.4 594.0 2003.5 595.1 2000.7 596.1 1997.9 597.0 1995.0 598.0 1992.1 598.9 1989.3 599.8 1986.4 600.7 1983.5 601.5 1980.6 602.4 1977.7 603.2 1974.8 604.0 1971.9 604.8 1969.0 605.5 1966.1 606.3 1963.2 607.0 1960.3 607.7 1957.4 608.4 1954.4 609.1 1951.5 609.8 1948.6 610.5 1945.6 611.2 1942.7 611.8 1939.8 612.5 1936.8 613.1 1933.9 613.8 1931.0 614.4 1928.0 615.1 1925.1 615.7 1922.2 616.4 1919.2 617.0 1916.3 617.7 1913.4 618.4 1910.4 619.0 1907.5 619.7 1904.6 620.4 1901.6 621.1 1898.7 621.8 1895.8 622.5 1892.9 623.2 1890.0 623.9 1887.1 624.7 1884.1 625.4 1881.2 626.2 1878.3 627.0 1875.4 627.8 1872.6 628.7 1869.7 629.5 1866.8 630.4 1863.9 631.3 1861.1 632.2 1858.2 633.2 1855.4 634.2 1852.5 635.2 1849.7 636.2 1846.9 637.3 1844.1 638.4 1841.3 639.5 1838.6 640.7 1835.8 641.9 1833.1 643.1 1830.4 644.4 1827.7 645.7 1825.0 647.1 1822.3 648.5 1819.7 650.0 1817.1 651.4 1814.5 653.0 1811.9 654.6 1809.4 656.2 1806.9 657.8 1804.4 659.5 1801.9 661.2 1799.5 663.0 1797.1 664.8 1794.7 666.6 1792.3 668.5 1790.0 670.4 1787.7 672.3 1785.4 674.2 1783.1 676.2 1780.9 678.2 1778.7 680.2 1776.5 682.3 1774.3 684.4 1772.1 686.5 1770.0 688.6 1767.9 690.8 1765.8 692.9 1763.8 695.1 1761.7 697.3 1759.7 699.6 1757.7 701.8 1755.7 704.1 1753.8 706.3 1751.8 708.6 1749.9 710.9 1748.0 713.3 1746.1 715.6 1744.2 718.0 1742.4 720.3 1740.5 722.7 1738.7 725.1 1736.9 727.5 1735.1 729.9 1733.3 732.3 1731.6 734.8 1729.8 737.2 1728.1 739.6 1726.3 742.1 1724.6 744.6 1722.9 747.0 1721.2 749.5 1719.5 752.0 1717.9 754.5 1716.2 757.0 1714.5 759.5 1712.9 762.0 1711.2 764.6 1709.6 767.1 1708.0 769.6 1706.4 772.2 1704.8 774.7 1703.2 777.3 1701.6 779.8 1700.0 782.4 1698.4 784.9 1696.8 787.5 1695.2 790.0 1693.7 792.6 1692.1 795.2 1690.5 797.7 1689.0 800.3 1687.4 802.9 1685.8 805.4 1684.3 808.0 1682.7 810.6 1681.2 813.1 1679.6 815.7 1678.1 818.3 1676.5 820.8 1674.9 823.4 1673.4 826.0 1671.8 828.6 1670.2 831.1 1668.7 833.7 1667.1 836.3 1665.5 838.8 1664.0 841.4 1662.4 843.9 1660.8 846.5 1659.2 849.1 1657.6 851.6 1656.1 854.2 1654.5 856.7 1652.9 859.3 1651.3 861.8 1649.6 864.3 1648.0 866.9 1646.4 869.4 1644.8 871.9 1643.1 874.5 1641.5 877.0 1639.9 879.5 1638.2 882.0 1636.6 884.5 1634.9 887.0 1633.2 889.5 1631.5 892.0 1629.8 894.5 1628.1 897.0 1626.4 899.5 1624.7 901.9 1623.0 904.4 1621.3 906.9 1619.6 909.3 1617.8 911.8 1616.1 914.2 1614.3 916.6 1612.5 919.0 1610.7 921.4 1608.8 923.8 1606.9 926.1 1605.0 928.4 1603.0 930.7 1601.0 932.9 1598.9 935.1 1596.7 937.2 1594.5 939.2 1592.2 941.2 1589.9 943.1 1587.5 944.8 1585.0 946.5 1582.4 948.0 1579.7 949.4 1577.0 950.7 1574.2 951.9 1571.4 952.9 1568.5 953.7 1565.6 954.4 1562.6 954.9 1559.6 955.2 1556.6 955.3 1553.6 955.3 1550.6 955.0 1547.6 954.5 1544.7 953.8 1541.8 953.0 1539.0 951.9 1536.3 950.6 1533.7 949.1 1531.1 947.6 1528.6 945.9 1526.2 944.2 1523.8 942.3 1521.4 940.5 1519.1 938.6 1516.7 936.7 1514.4 934.8 1512.1 932.9 1509.8 931.0 1507.5 929.1 1505.1 927.2 1502.7 925.3 1500.4 923.5 1497.9 921.7 1495.5 919.9 1493.0 918.3 1490.5 916.6 1487.9 915.1 1485.3 913.6 1482.6 912.3 1479.9 911.0 1477.1 909.8 1474.3 908.7 1471.5 907.8 1468.6 906.9 1465.7 906.1 1462.7 905.5 1459.8 904.9 1456.8 904.4 1453.8 904.1 1450.8 903.8 1447.8 903.7 1444.8 903.6 1441.8 903.6 1438.8 903.8 1435.8 904.0 1432.8 904.3 1429.8 904.7 1426.9 905.2 1423.9 905.7 1421.0 906.4 1418.1 907.1 1415.2 907.9 1412.3 908.8 1409.4 909.7 1406.6 910.7 1403.8 911.7 1401.0 912.8 1398.2 914.0 1395.5 915.2 1392.7 916.5 1390.0 917.8 1387.4 919.2 1384.7 920.6 1382.1 922.1 1379.5 923.6 1376.9 925.2 1374.4 926.8 1371.9 928.4 1369.4 930.1 1366.9 931.8 1364.5 933.6 1362.1 935.4 1359.7 937.2 1357.3 939.1 1355.0 941.0 1352.7 942.9 1350.4 944.9 1348.2 946.9 1345.9 948.9 1343.7 950.9 1341.6 953.0 1339.4 955.1 1337.3 957.3 1335.2 959.4 1333.2 961.6 1331.1 963.9 1329.1 966.1 1327.2 968.4 1325.2 970.6 1323.3 972.9 1321.4 975.3 1319.5 977.6 1317.6 980.0 1315.8 982.4 1314.0 984.8 1312.2 987.2 1310.4 989.6 1308.7 992.0 1306.9 994.5 1305.2 997.0 1303.5 999.4 1301.8 1001.9 1300.1 1004.4 1298.5 1006.9 1296.8 1009.4 1295.2 1012.0 1293.6 1014.5 1292.0 1017.0 1290.3 1019.6 1288.8 1022.1 1287.2 1024.7 1285.6 1027.2 1284.0 1029.8 1282.4 1032.4 1280.9 1034.9 1279.3 1037.5 1277.8 1040.1 1276.2 1042.6 1274.6 1045.2 1273.1 1047.8 1271.5 1050.4 1270.0 1052.9 1268.4 1055.5 1266.8 1058.0 1265.2 1060.6 1263.7 1063.2 1262.1 1065.7 1260.5 1068.3 1258.9 1070.8 1257.2 1073.3 1255.6 1075.9 1254.0 1078.4 1252.3 1080.9 1250.7 1083.4 1249.0 1085.9 1247.3 1088.4 1245.7 1090.9 1244.0 1093.4 1242.3 1095.9 1240.6 1098.4 1238.9 1100.9 1237.2 1103.3 1235.5 1105.8 1233.7 1108.3 1232.0 1110.7 1230.3 1113.2 1228.5 1115.6 1226.8 1118.1 1225.1 1120.5 1223.3 1123.0 1221.5 1125.4 1219.8 1127.8 1218.0 1130.3 1216.3 1132.7 1214.5 1135.2 1212.7 1137.6 1210.9 1140.0 1209.2 1142.4 1207.4 1144.9 1205.6 1147.3 1203.8 1149.7 1202.0 1152.1 1200.3 1154.5 1198.5 1157.0 1196.7 1159.4 1194.9 1161.8 1193.1 1164.2 1191.3 1166.6 1189.5 1169.1 1187.8 1171.5 1186.0 1173.9 1184.1 1176.3 1182.3 1178.7 1180.5 1181.1 1178.7 1183.4 1176.8 1185.8 1174.9 1188.1 1173.0 1190.5 1171.1 1192.8 1169.1 1195.0 1167.1 1197.3 1165.1 1199.5 1163.1 1201.7 1161.0 1203.9 1158.9 1206.1 1156.7 1208.2 1154.5 1210.2 1152.3 1212.2 1150.0 1214.2 1147.7 1216.1 1145.4 1218.0 1143.0 1219.8 1140.5 1221.6 1138.1 1223.3 1135.5 1224.9 1133.0 1226.5 1130.4 1228.0 1127.7 1229.4 1125.0 1230.8 1122.3 1232.1 1119.6 1233.3 1116.9 1234.5 1114.1 1235.7 1111.3 1236.8 1108.4 1237.8 1105.6 1238.8 1102.7 1239.7 1099.9 1240.6 1097.0 1241.5 1094.1 1242.2 1091.2 1243.0 1088.3 1243.7 1085.3 1244.4 1082.4 1245.0 1079.4 1245.6 1076.5 1246.1 1073.5 1246.6 1070.5 1247.1 1067.6 1247.5 1064.6 1247.9 1061.6 1248.2 1058.6 1248.5 1055.6 1248.8 1052.6 1249.0 1049.6 1249.2 1046.6 1249.3 1043.6 1249.5 1040.6 1249.5 1037.6 1249.6 1034.6 1249.6 1031.6 1249.6 1028.6 1249.5 1025.6 1249.5 1022.6 1249.4 1019.6 1249.2 1016.5 1249.1 1013.5 1248.9 1010.5 1248.7 1007.6 1248.4 1004.6 1248.2 1001.6 1247.9 998.6 1247.6 995.6 1247.3 992.6 1246.9 989.6 1246.6 986.6 1246.2 983.6 1245.8 980.7 1245.4 977.7 1245.0 974.7 1244.6 971.7 1244.1 968.8 1243.7 965.8 1243.2 962.8 1242.7 959.9 1242.2 956.9 1241.8 953.9 1241.3 951.0 1240.8 948.0 1240.2 945.0 1239.7 942.1 1239.2 939.1 1238.7 936.2 1238.2 933.2 1237.7 930.2 1237.1 927.3 1236.6 924.3 1236.1 921.3 1235.6 918.4 1235.1 915.4 1234.6 912.5 1234.1 909.5 1233.5 906.5 1233.0 903.6 1232.5 900.6 1232.0 897.6 1231.5 894.7 1231.0 891.7 1230.5 888.7 1230.1 885.8 1229.6 882.8 1229.1 879.8 1228.6 876.9 1228.2 873.9 1227.7 870.9 1227.2 867.9 1226.8 865.0 1226.3 862.0 1225.9 859.0 1225.5 856.0 1225.0 853.1 1224.6 850.1 1224.2 847.1 1223.8 844.1 1223.4 841.1 1223.0 838.2 1222.7 835.2 1222.3 832.2 1221.9 829.2 1221.6 826.2 1221.2 823.2 1220.9 820.2 1220.6 817.3 1220.3 814.3 1220.0 811.3 1219.7 808.3 1219.4 805.3 1219.2 802.3 1218.9 799.3 1218.7 796.3 1218.4 793.3 1218.2 790.3 1218.0 787.3 1217.8 784.3 1217.7 781.3 1217.5 778.3 1217.4 775.3 1217.2 772.3 1217.1 769.3 1217.0 766.3 1216.9 763.3 1216.9 760.3 1216.8 757.2 1216.8 754.2 1216.8 751.2 1216.8 748.2 1216.8 745.2 1216.9 742.2 1216.9 739.2 1217.0 736.2 1217.1 733.2 1217.2 730.2 1217.3 727.2 1217.5 724.2 1217.6 721.2 1217.8 718.2 1218.0 715.2 1218.2 712.2 1218.4 709.2 1218.7 706.2 1218.9 703.2 1219.2 700.2 1219.5 697.2 1219.8 694.2 1220.1 691.2 1220.4 688.3 1220.8 685.3 1221.1 682.3 1221.5 679.3 1221.9 676.3 1222.3 673.3 1222.7 670.4 1223.2 667.4 1223.6 664.4 1224.1 661.5 1224.6 658.5 1225.0 655.5 1225.5 652.6 1226.1 649.6 1226.6 646.7 1227.1 643.7 1227.7 640.7 1228.3 637.8 1228.8 634.8 1229.4 631.9 1230.0 629.0 1230.6 626.0 1231.3 623.1 1231.9 620.1 1232.6 617.2 1233.2 614.3 1233.9 611.3 1234.6 608.4 1235.3 605.5 1236.0 602.6 1236.7 599.7 1237.4 596.7 1238.1 593.8 1238.9 590.9 1239.6 588.0 1240.4 585.1 1241.2 582.2 1242.0 579.3 1242.7 576.4 1243.5 573.5 1244.4 570.6 1245.2 567.7 1246.0 564.8 1246.8 562.0 1247.7 559.1 1248.5 556.2 1249.4 553.3 1250.3 550.4 1251.1 547.6 1252.0 544.7 1252.9 541.8 1253.8 539.0 1254.7 536.1 1255.6 533.2 1256.6 530.4 1257.5 527.5 1258.4 524.7 1259.4 521.8 1260.3 518.9 1261.3 516.1 1262.2 513.3 1263.2 510.4 1264.1 507.6 1265.1 504.7 1266.1 501.9 1267.1 499.0 1268.1 496.2 1269.1 493.4 1270.1 490.5 1271.1 487.7 1272.1 484.9 1273.1 482.1 1274.2 479.2 1275.2 476.4 1276.2 473.6 1277.3 470.8 1278.3 467.9 1279.3 465.1 1280.4 462.3 1281.4 459.5 1282.5 456.7 1283.6 453.9 1284.6 451.1 1285.7 448.3 1286.8 445.4 1287.8 442.6 1288.9 439.8 1290.0 437.0 1291.1 434.2 1292.2 431.4 1293.2 428.6 1294.3 421.2 1297.2"/>
</g>
<rect x="1612.6" y="1152.6" width="375.7" height="197.7" fill="none" stroke="#000" stroke-width="2.2"/>
<g stroke-width="10.6" stroke-linecap="round"><path d="M1624.5 1200H1784.5" stroke="#000"/><path d="M1624.5 1289.1H1784.5" stroke="#f0f"/></g>
<g font-family="Liberation Sans, Arial, sans-serif" fill="#000">
<text transform="translate(377.0 71.9) scale(1.083 1.0)" font-size="68.5" font-weight="bold" text-anchor="end" xml:space="preserve">0.006</text>
<text transform="translate(377.0 345.5) scale(1.083 1.0)" font-size="68.5" font-weight="bold" text-anchor="end" xml:space="preserve">0.004</text>
<text transform="translate(377.0 619.0) scale(1.083 1.0)" font-size="68.5" font-weight="bold" text-anchor="end" xml:space="preserve">0.002</text>
<text transform="translate(377.0 892.5) scale(1.083 1.0)" font-size="68.5" font-weight="bold" text-anchor="end" xml:space="preserve">0.000</text>
<text transform="translate(377.0 1166.0) scale(1.083 1.0)" font-size="68.5" font-weight="bold" text-anchor="end" xml:space="preserve">-0.002</text>
<text transform="translate(377.0 1439.5) scale(1.083 1.0)" font-size="68.5" font-weight="bold" text-anchor="end" xml:space="preserve">-0.004</text>
<text transform="translate(655.7 1591) scale(1.07 1.0)" font-size="69.5" font-weight="bold" text-anchor="middle" xml:space="preserve">-1.0</text>
<text transform="translate(1034.6 1591) scale(1.07 1.0)" font-size="69.5" font-weight="bold" text-anchor="middle" xml:space="preserve">-0.5</text>
<text transform="translate(1413.6 1591) scale(1.07 1.0)" font-size="69.5" font-weight="bold" text-anchor="middle" xml:space="preserve">0.0</text>
<text transform="translate(1792.5 1591) scale(1.07 1.0)" font-size="69.5" font-weight="bold" text-anchor="middle" xml:space="preserve">0.5</text>
<text transform="translate(2171.5 1591) scale(1.07 1.0)" font-size="69.5" font-weight="bold" text-anchor="middle" xml:space="preserve">1.0</text>
<text transform="translate(1154.1 1714.9) scale(1.071 1.0)" font-size="70.4" font-weight="bold" text-anchor="start" xml:space="preserve">Potential (V)</text>
<text transform="translate(1858.3 139.2) scale(1.037 1.0)" font-size="66.9" font-weight="bold" text-anchor="start" xml:space="preserve">Ox-2</text>
<text transform="translate(1623.1 264.6) scale(0.99 1.0)" font-size="65.2" font-weight="bold" text-anchor="start" xml:space="preserve">Ox-1</text>
<text transform="translate(942.6 1447) scale(0.963 1.0)" font-size="68.6" font-weight="bold" text-anchor="start" xml:space="preserve">Red-1</text>
<text transform="translate(1424 1069.2) scale(1.015 1.0)" font-size="68.4" font-weight="bold" text-anchor="start" xml:space="preserve">Red-2</text>
<text transform="translate(1239.2 300.6) scale(1.071 1.0)" font-size="67.5" font-weight="normal" text-anchor="start" xml:space="preserve">Epp</text>
<text transform="translate(1805.2 1222.3) scale(1.059 1.0)" font-size="71.4" font-weight="normal" text-anchor="start" xml:space="preserve">Pt</text>
<text transform="translate(1803.6 1311.7) scale(1.097 1.0)" font-size="71" font-weight="normal" text-anchor="start" xml:space="preserve">CoS</text>
<text transform="translate(1954 1340.5) scale(1.11 1.0)" font-size="42.4" font-weight="normal" text-anchor="start" xml:space="preserve">2</text>
<text transform="translate(116.6 1167.8) rotate(-90) scale(1.0 1.11)" font-size="72" font-weight="bold" text-anchor="start" xml:space="preserve">Current density  (A cm<tspan dy="-34.9">-2</tspan><tspan dy="34.9">)</tspan></text>
</g>
</svg>
</body></html>
